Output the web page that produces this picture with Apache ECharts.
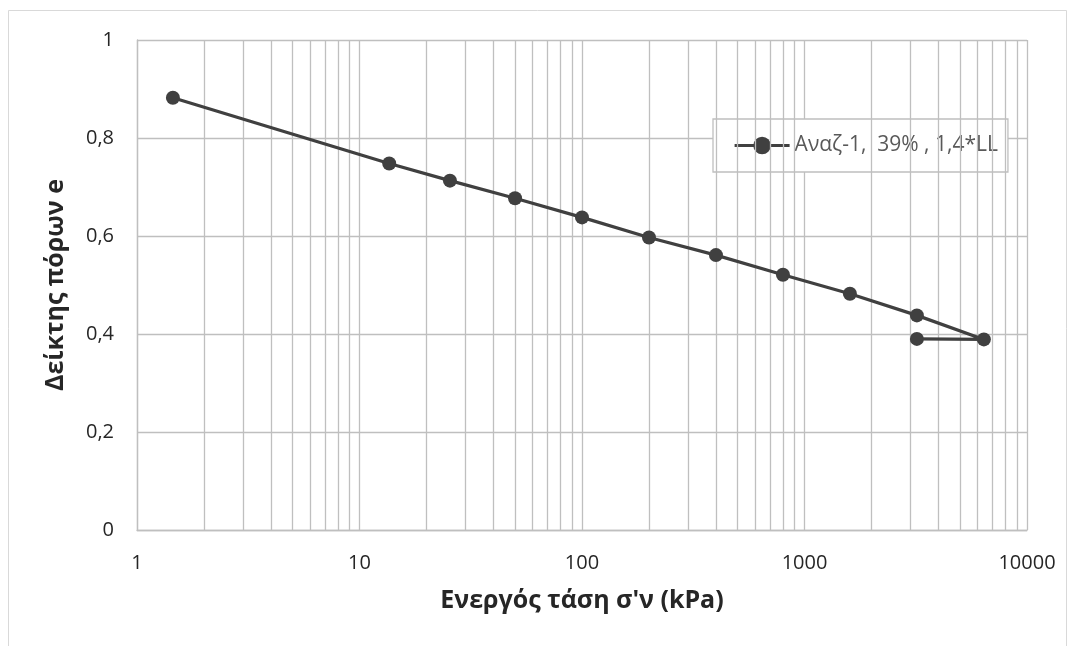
<!DOCTYPE html>
<html><head><meta charset="utf-8">
<script src="https://cdn.jsdelivr.net/npm/echarts@6/dist/echarts.min.js"></script>
<style>html,body{margin:0;padding:0;background:#fff}#c{width:1073px;height:646px}</style>
</head><body><div id="c"></div>
<script>
const stress = [1.45, 13.6, 25.5, 50, 100, 200, 400, 800, 1600, 3200, 6400, 3200];
const voidRatio = [0.882, 0.748, 0.713, 0.677, 0.638, 0.597, 0.561, 0.521, 0.482, 0.438, 0.389, 0.390];
const minorGrid = [2,3,4,5,6,7,8,9,20,30,40,50,60,70,80,90,200,300,400,500,600,700,800,900,2000,3000,4000,5000,6000,7000,8000,9000];
const seriesName = 'Αναζ-1,  39% , 1,4*LL';
const xTitle = "Ενεργός τάση σ'ν (kPa)";
const yTitle = 'Δείκτης πόρων e';

const font = 'Open Sans, Noto Sans, sans-serif';
const chart = echarts.init(document.getElementById('c'), null, {renderer:'canvas'});
chart.setOption({
  animation:false,
  backgroundColor:'#fff',
  graphic:[{type:'rect', shape:{x:8.5,y:10.5,width:1058,height:640}, style:{fill:'none', stroke:'#d9d9d9', lineWidth:1}, silent:true, z:-1}],
  grid:{left:137, right:46, top:40, bottom:116},
  legend:{
    data:[seriesName], left:713, top:119, width:294, height:57,
    padding:[16,10,16,20], borderColor:'#bfbfbf', borderWidth:1.3, backgroundColor:'#fff',
    itemWidth:55, itemHeight:22, itemGap:0,
    lineStyle:{width:3.2},
    textStyle:{fontFamily:font, fontSize:21, color:'#595959'}
  },
  xAxis:{
    type:'log', logBase:10, min:1, max:10000,
    name:xTitle, nameLocation:'middle', nameGap:58,
    nameTextStyle:{fontFamily:font, fontSize:25, fontWeight:'bold', color:'#262626'},
    axisLine:{show:true, lineStyle:{color:'#bfbfbf', width:1.3}},
    axisTick:{show:false},
    axisLabel:{fontFamily:font, fontSize:20, color:'#262626', margin:23, formatter:v=>String(Math.round(v))},
    splitLine:{show:true, lineStyle:{color:'#bfbfbf', width:1.3}},
    minorTick:{show:false}, minorSplitLine:{show:false}
  },
  yAxis:{
    type:'value', min:0, max:1, interval:0.2,
    name:yTitle, nameLocation:'middle', nameGap:69, nameRotate:90,
    nameTextStyle:{fontFamily:font, fontSize:25, fontWeight:'bold', color:'#262626'},
    axisLine:{show:true, lineStyle:{color:'#bfbfbf', width:1.3}},
    axisTick:{show:false},
    axisLabel:{fontFamily:font, fontSize:20, color:'#262626', margin:23, formatter:v=>String(Math.round(v*10)/10).replace('.',',')},
    splitLine:{show:true, lineStyle:{color:'#bfbfbf', width:1.3}}
  },
  series:[
    {type:'line', name:'_minor', data:[], silent:true, z:1,
     markLine:{silent:true, symbol:['none','none'], label:{show:false},
       lineStyle:{color:'#bfbfbf', width:1.3, type:'solid'},
       data:minorGrid.map(v=>({xAxis:v}))}},
    {type:'line', name:seriesName, z:5,
     data:stress.map((s,i)=>[s, voidRatio[i]]),
     symbol:'circle', symbolSize:14,
     lineStyle:{color:'#404040', width:3.2},
     itemStyle:{color:'#404040'}}
  ]
});
</script></body></html>
